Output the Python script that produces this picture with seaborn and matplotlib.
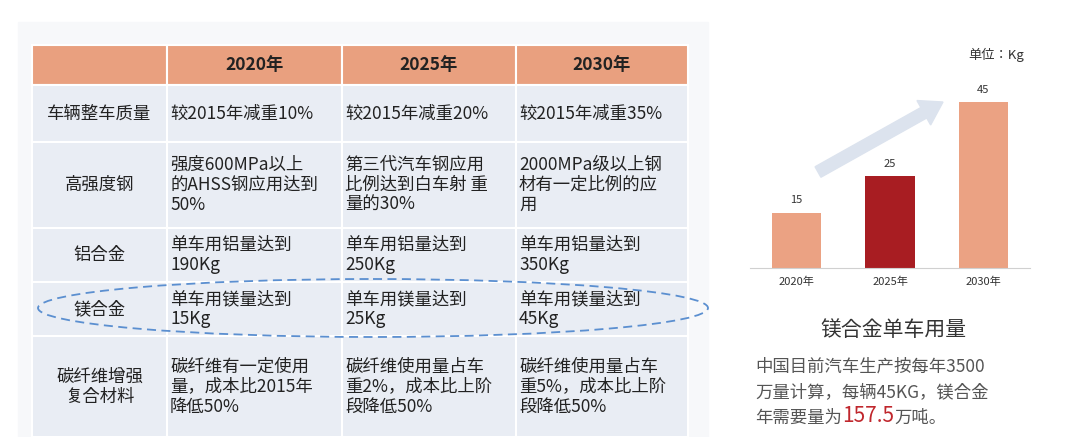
import matplotlib
matplotlib.use("Agg")
import matplotlib.pyplot as plt
import seaborn as sns
import pandas as pd
from matplotlib.patches import Rectangle, Ellipse, FancyArrow
from matplotlib import font_manager

cands = ["Noto Sans CJK SC", "Noto Sans CJK JP", "Noto Sans CJK TC", "Noto Sans CJK KR"]
avail = {f.name for f in font_manager.fontManager.ttflist}
fams = [c for c in cands if c in avail] + ["DejaVu Sans"]
plt.rcParams["font.family"] = "sans-serif"
plt.rcParams["font.sans-serif"] = fams

years = ["2020年", "2025年", "2030年"]
mg_usage = [15, 25, 45]
bar_colors = ["#EBA283", "#A81D22", "#EBA283"]
row_labels = ["车辆整车质量", "高强度钢", "铝合金", "镁合金", "碳纤维增强\n复合材料"]
cells = [
    ["较2015年减重10%", "较2015年减重20%", "较2015年减重35%"],
    ["强度600MPa以上\n的AHSS钢应用达到\n50%", "第三代汽车钢应用\n比例达到白车射 重\n量的30%", "2000MPa级以上钢\n材有一定比例的应\n用"],
    ["单车用铝量达到\n190Kg", "单车用铝量达到\n250Kg", "单车用铝量达到\n350Kg"],
    ["单车用镁量达到\n15Kg", "单车用镁量达到\n25Kg", "单车用镁量达到\n45Kg"],
    ["碳纤维有一定使用\n量，成本比2015年\n降低50%", "碳纤维使用量占车\n重2%，成本比上阶\n段降低50%", "碳纤维使用量占车\n重5%，成本比上阶\n段降低50%"],
]

W, H = 1080, 437
fig = plt.figure(figsize=(10.8, 4.37), dpi=100)
fig.patch.set_facecolor("white")
bg = fig.add_axes([0, 0, 1, 1])
bg.set_xlim(0, W); bg.set_ylim(H, 0); bg.axis("off")

bg.add_patch(Rectangle((18, 22), 690, 415, color="#F7F8FA", zorder=0))

xs = [32, 167, 342, 516, 688]
ys = [45, 85, 142, 228, 282, 336, 437]
for c in range(4):
    bg.add_patch(Rectangle((xs[c], ys[0]), xs[c+1]-xs[c], ys[1]-ys[0],
                           facecolor="#E9A07F", edgecolor="white", lw=1.5, zorder=1))
for c, y in enumerate(years):
    bg.text((xs[c+1]+xs[c+2])/2, (ys[0]+ys[1])/2, y, ha="center", va="center",
            fontsize=12.5, fontweight="bold", color="#222222", zorder=3)
for r in range(5):
    for c in range(4):
        bg.add_patch(Rectangle((xs[c], ys[r+1]), xs[c+1]-xs[c], ys[r+2]-ys[r+1],
                               facecolor="#E9EDF4", edgecolor="white", lw=1.5, zorder=1))
    bg.text((xs[0]+xs[1])/2, (ys[r+1]+ys[r+2])/2, row_labels[r], ha="center", va="center",
            fontsize=12.5, color="#222222", linespacing=1.15, zorder=3)
    for c in range(3):
        bg.text(xs[c+1]+3, (ys[r+1]+ys[r+2])/2, cells[r][c], ha="left", va="center",
                fontsize=12.5, color="#222222", linespacing=1.15, zorder=3)

bg.add_patch(Ellipse((373, 308), 670, 58, fill=False, edgecolor="#5B8FD0",
                     lw=1.3, ls=(0, (5, 3)), zorder=4))

bg.add_patch(FancyArrow(818, 172, 125, -70, width=12, head_width=28, head_length=22,
                        color="#DCE3EE", zorder=1, length_includes_head=True))

ax = fig.add_axes([750/W, 1-268/H, 280/W, 184/H])
df = pd.DataFrame({"year": years, "val": mg_usage})
sns.barplot(data=df, x="year", y="val", hue="year", palette=bar_colors, legend=False,
            width=0.53, saturation=1, ax=ax, zorder=2)
ax.set_ylim(0, 50)
ax.set_xlabel(""); ax.set_ylabel("")
ax.set_yticks([])
for s in ["top", "left", "right"]:
    ax.spines[s].set_visible(False)
ax.spines["bottom"].set_color("#D0D0D0")
ax.tick_params(axis="x", length=0, labelsize=8, colors="#333333", pad=6)
ax.patch.set_alpha(0)
for i, v in enumerate(mg_usage):
    ax.text(i, v + 2, str(v), ha="center", va="bottom", fontsize=8, color="#333333")

bg.text(968, 55, "单位：Kg", ha="left", va="center", fontsize=9.5, color="#333333")
bg.text(893, 330, "镁合金单车用量", ha="center", va="center", fontsize=15, color="#333333")
bg.text(755, 367, "中国目前汽车生产按每年3500", ha="left", va="center", fontsize=12.5, color="#555555")
bg.text(755, 392, "万量计算，每辆45KG，镁合金", ha="left", va="center", fontsize=12.5, color="#555555")
t1 = bg.text(755, 418, "年需要量为", ha="left", va="center", fontsize=12.5, color="#555555")
fig.canvas.draw()
bb = t1.get_window_extent().transformed(bg.transData.inverted())
t2 = bg.text(bb.x1, 416, "157.5", ha="left", va="center", fontsize=15, color="#C0272D")
fig.canvas.draw()
bb2 = t2.get_window_extent().transformed(bg.transData.inverted())
bg.text(bb2.x1, 418, "万吨。", ha="left", va="center", fontsize=12.5, color="#555555")

fig.savefig("out.png", dpi=100)
